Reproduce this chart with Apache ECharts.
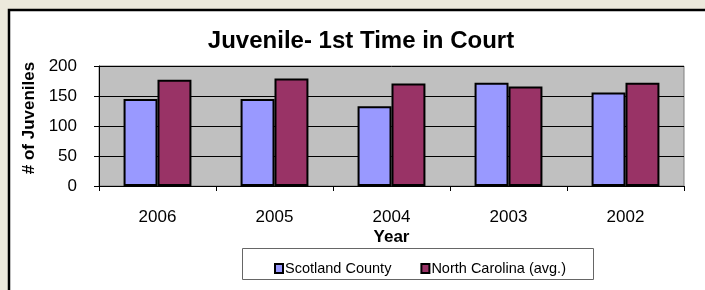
<!DOCTYPE html>
<html>
<head>
<meta charset="utf-8">
<script src="https://cdn.jsdelivr.net/npm/echarts@6/dist/echarts.min.js"></script>
<style>
  html, body { margin: 0; padding: 0; background: #ECE9DC; }
  #chart { width: 705px; height: 290px; }
</style>
</head>
<body>
<div id="chart"></div>
<script>
  // 数据
  var years = ['2006', '2005', '2004', '2003', '2002'];
  var scotland = [145, 145, 133, 172, 156];
  var ncAvg = [177, 179, 171, 166, 172];
  var yTicks = [0, 50, 100, 150, 200];

  var myChart = echarts.init(document.getElementById('chart'));
  var option = {
    animation: false,
    backgroundColor: '#ECE9DC',
    graphic: [
      {
        type: 'rect', z: -10, silent: true,
        shape: { x: 9, y: 10, width: 720, height: 300 },
        style: { fill: '#fff', stroke: '#000', lineWidth: 2.5 }
      },
      {
        type: 'rect', z: 10, silent: true,
        shape: { x: 242.5, y: 248.5, width: 351, height: 31 },
        style: { fill: 'none', stroke: '#666', lineWidth: 1 }
      }
    ],
    title: {
      text: 'Juvenile- 1st Time in Court',
      left: 356, top: 24, textAlign: 'center',
      textStyle: { fontFamily: 'Arial', fontSize: 24, fontWeight: 'bold', color: '#000' }
    },
    legend: {
      data: ['Scotland County', 'North Carolina (avg.)'],
      left: 269, top: 256,
      itemWidth: 8, itemHeight: 9, itemGap: 29,
      icon: 'rect',
      textStyle: { fontFamily: 'Arial', fontSize: 14.5, color: '#000', padding: [0, 0, 0, -3] }
    },
    grid: {
      left: 99, right: 21, top: 66, bottom: 104,
      show: true, backgroundColor: '#C0C0C0', borderColor: '#808080', borderWidth: 1
    },
    xAxis: {
      type: 'category',
      data: years,
      name: 'Year',
      nameLocation: 'middle',
      nameGap: 43,
      nameTextStyle: { fontFamily: 'Arial', fontSize: 17, fontWeight: 'bold', color: '#000' },
      axisLine: { lineStyle: { color: '#000', width: 1 } },
      axisTick: { show: true, alignWithLabel: false, length: 5, lineStyle: { color: '#000' } },
      axisLabel: { fontFamily: 'Arial', fontSize: 17, color: '#000', margin: 23 }
    },
    yAxis: {
      type: 'value',
      min: yTicks[0], max: yTicks[yTicks.length - 1], interval: 50,
      name: '# of Juveniles',
      nameLocation: 'middle',
      nameGap: 56,
      nameTextStyle: { fontFamily: 'Arial', fontSize: 17, fontWeight: 'bold', color: '#000', padding: [0, 0, 0, 16] },
      axisLine: { show: true, lineStyle: { color: '#000', width: 1 } },
      axisTick: { show: true, length: 5, lineStyle: { color: '#000' } },
      axisLabel: { fontFamily: 'Arial', fontSize: 17, color: '#000', margin: 22 },
      splitLine: { show: true, lineStyle: { color: '#000', width: 1 } }
    },
    series: [
      {
        name: 'Scotland County', type: 'bar', data: scotland,
        barGap: '0%', barCategoryGap: '42%',
        itemStyle: { color: '#9999FF', borderColor: '#000', borderWidth: 2 }
      },
      {
        name: 'North Carolina (avg.)', type: 'bar', data: ncAvg,
        itemStyle: { color: '#993366', borderColor: '#000', borderWidth: 2 }
      }
    ]
  };
  myChart.setOption(option, true);
</script>
</body>
</html>
